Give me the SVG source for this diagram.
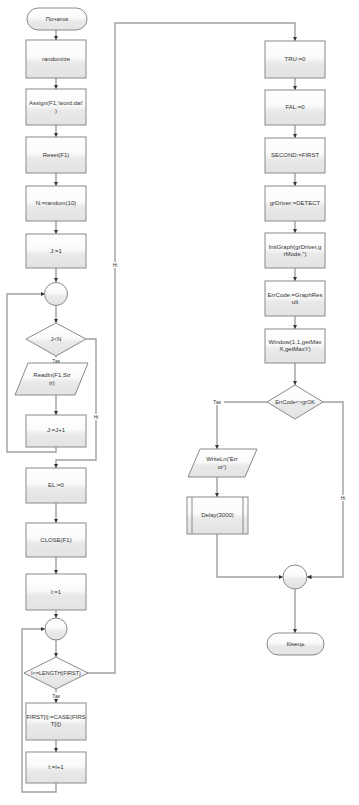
<svg xmlns="http://www.w3.org/2000/svg" width="359" height="805" viewBox="0 0 359 805">
<style>
.s{fill:url(#g);stroke:#8a8a8a;stroke-width:1}
.t{font-family:"Liberation Sans",Arial,sans-serif;font-size:6px;fill:#333;text-anchor:middle}
.c{fill:none;stroke:#a0a0a0;stroke-width:1.4}
.a{marker-end:url(#ar)}
.lb{fill:#fff}
.sm{font-size:4.8px}
</style>
<defs>
<linearGradient id="g" x1="0" y1="0" x2="0" y2="1">
<stop offset="0" stop-color="#ffffff"/>
<stop offset="0.45" stop-color="#fafafa"/>
<stop offset="0.6" stop-color="#e9e9e9"/>
<stop offset="1" stop-color="#e3e3e3"/>
</linearGradient>
<marker id="ar" viewBox="0 0 10 10" refX="10" refY="5" markerWidth="4.5" markerHeight="4.5" markerUnits="userSpaceOnUse" orient="auto">
<path d="M0,0 L10,5 L0,10 z" fill="#333"/>
</marker>
</defs>
<rect width="359" height="805" fill="#fff"/>
<g id="connectors">
<path class="c a" d="M56,30 V40"/>
<path class="c a" d="M56,78 V89"/>
<path class="c a" d="M56,125 V137"/>
<path class="c a" d="M56,173 V186"/>
<path class="c a" d="M56,221 V234"/>
<path class="c a" d="M56,268 V282"/>
<path class="c a" d="M56,306 V323"/>
<path class="c a" d="M56,356 V363"/>
<path class="c a" d="M56,395 V415"/>
<path class="c a" d="M56,447 V452 H7 V294 H45"/>
<path class="c a" d="M86,339 H96 V460 H56 V468"/>
<path class="c a" d="M56,503 V523"/>
<path class="c a" d="M56,557 V574"/>
<path class="c a" d="M56,610 V618"/>
<path class="c a" d="M56,640 V657"/>
<path class="c a" d="M56,689 V703"/>
<path class="c a" d="M56,740 V752"/>
<path class="c a" d="M56,783 V792 H22 V629 H45"/>
<path class="c a" d="M87,673 H115 V23 H295 V41"/>
<path class="c a" d="M295,78 V90"/>
<path class="c a" d="M295,125 V138"/>
<path class="c a" d="M295,173 V186"/>
<path class="c a" d="M295,221 V233"/>
<path class="c a" d="M295,268 V281"/>
<path class="c a" d="M295,316 V329"/>
<path class="c a" d="M295,363 V385"/>
<path class="c a" d="M267,402 H217 V449"/>
<path class="c a" d="M323,402 H343 V577 H307"/>
<path class="c a" d="M217,477 V497"/>
<path class="c a" d="M217,534 V577 H283"/>
<path class="c a" d="M295,589 V633"/>
<rect class="lb" x="49" y="357.5" width="14" height="6"/>
<text class="t sm" x="56" y="362.5">Так</text>
<rect class="lb" x="49" y="692.5" width="14" height="6"/>
<text class="t sm" x="56" y="697.5">Так</text>
<rect class="lb" x="91" y="414" width="10" height="6"/>
<text class="t sm" x="96" y="419">Ні</text>
<rect class="lb" x="110" y="262" width="10" height="6"/>
<text class="t sm" x="115" y="267">Ні</text>
<rect class="lb" x="210" y="399" width="14" height="6"/>
<text class="t sm" x="217" y="404">Так</text>
<rect class="lb" x="338" y="495" width="10" height="6"/>
<text class="t sm" x="343" y="500">Ні</text>
</g>
<g id="start"><rect class="s" x="27" y="8" width="60" height="22" rx="11"/><text class="t" x="57" y="21">Початок</text></g>
<g id="randomize"><rect class="s" x="26" y="40" width="60" height="38"/><text class="t" x="56" y="61">randomize</text></g>
<g id="assign"><rect class="s" x="26" y="89" width="60" height="36"/><text class="t" x="56" y="105">Assign(F1,'word.dat'</text><text class="t" x="56" y="112.5">)</text></g>
<g id="reset"><rect class="s" x="26" y="137" width="60" height="36"/><text class="t" x="56" y="157">Reset(F1)</text></g>
<g id="random"><rect class="s" x="26" y="186" width="60" height="35"/><text class="t" x="56" y="205">N:=random(10)</text></g>
<g id="j1"><rect class="s" x="26" y="234" width="60" height="34"/><text class="t" x="56" y="253">J:=1</text></g>
<g id="join1"><circle class="s" cx="56" cy="294" r="11.5"/></g>
<g id="cond1"><polygon class="s" points="56,323 86,339 56,356 26,339"/><text class="t" x="56" y="341">J&lt;N</text></g>
<g id="readln"><polygon class="s" points="28,363 88,363 75,395 15,395"/><text class="t" x="52" y="377">Readln(F1,Str</text><text class="t" x="52" y="384.5">ir)</text></g>
<g id="jinc"><rect class="s" x="26" y="415" width="60" height="32"/><text class="t" x="56" y="432">J:=J+1</text></g>
<g id="el"><rect class="s" x="26" y="468" width="60" height="35"/><text class="t" x="56" y="487">EL:=0</text></g>
<g id="close"><rect class="s" x="26" y="523" width="60" height="34"/><text class="t" x="56" y="542">CLOSE(F1)</text></g>
<g id="i1"><rect class="s" x="26" y="574" width="60" height="36"/><text class="t" x="56" y="594">I:=1</text></g>
<g id="join2"><circle class="s" cx="56" cy="629" r="11"/></g>
<g id="cond2"><polygon class="s" points="56,657 88,673 56,689 24,673"/><text class="t" x="56" y="675" style="font-size:5.5px">I&lt;=LENGTH(FIRST)</text></g>
<g id="case"><rect class="s" x="26" y="703" width="60" height="37"/><text class="t" x="56" y="718.5">FIRST[i]:=CASE(FIRS</text><text class="t" x="56" y="726">T[i])</text></g>
<g id="iinc"><rect class="s" x="26" y="752" width="60" height="31"/><text class="t" x="56" y="769">I:=I+1</text></g>
<g id="tru"><rect class="s" x="265" y="41" width="60" height="37"/><text class="t" x="295" y="61">TRU:=0</text></g>
<g id="fal"><rect class="s" x="265" y="90" width="60" height="35"/><text class="t" x="295" y="109">FAL:=0</text></g>
<g id="second"><rect class="s" x="265" y="138" width="60" height="35"/><text class="t" x="295" y="157">SECOND:=FIRST</text></g>
<g id="grdriver"><rect class="s" x="265" y="186" width="60" height="35"/><text class="t" x="295" y="205">grDriver:=DETECT</text></g>
<g id="initgraph"><rect class="s" x="265" y="233" width="60" height="35"/><text class="t" x="295" y="248.5">InitGraph(grDriver,g</text><text class="t" x="295" y="256">rMode,'')</text></g>
<g id="errcode"><rect class="s" x="265" y="281" width="60" height="35"/><text class="t" x="295" y="296.5">ErrCode:=GraphRes</text><text class="t" x="295" y="304">ult</text></g>
<g id="window"><rect class="s" x="265" y="329" width="60" height="34"/><text class="t" x="295" y="343.5">Window(1,1,getMax</text><text class="t" x="295" y="351">X,getMaxY)</text></g>
<g id="cond3"><polygon class="s" points="295,385 323,402 295,419 267,402"/><text class="t" x="295" y="404" style="font-size:5.5px">ErrCode&lt;&gt;grOK</text></g>
<g id="writeln"><polygon class="s" points="200,449 257,449 245,477 188,477"/><text class="t" x="222" y="461">WriteLn('Err</text><text class="t" x="222" y="468.5">or')</text></g>
<g id="delay"><rect class="s" x="187" y="497" width="61" height="37"/><line x1="192" y1="497" x2="192" y2="534" stroke="#8a8a8a"/><line x1="243" y1="497" x2="243" y2="534" stroke="#8a8a8a"/><text class="t" x="217.5" y="517">Delay(3000)</text></g>
<g id="join3"><circle class="s" cx="295" cy="577" r="12"/></g>
<g id="end"><rect class="s" x="267" y="633" width="57" height="22" rx="11"/><text class="t" x="295.5" y="646">Кінець</text></g>
</svg>
